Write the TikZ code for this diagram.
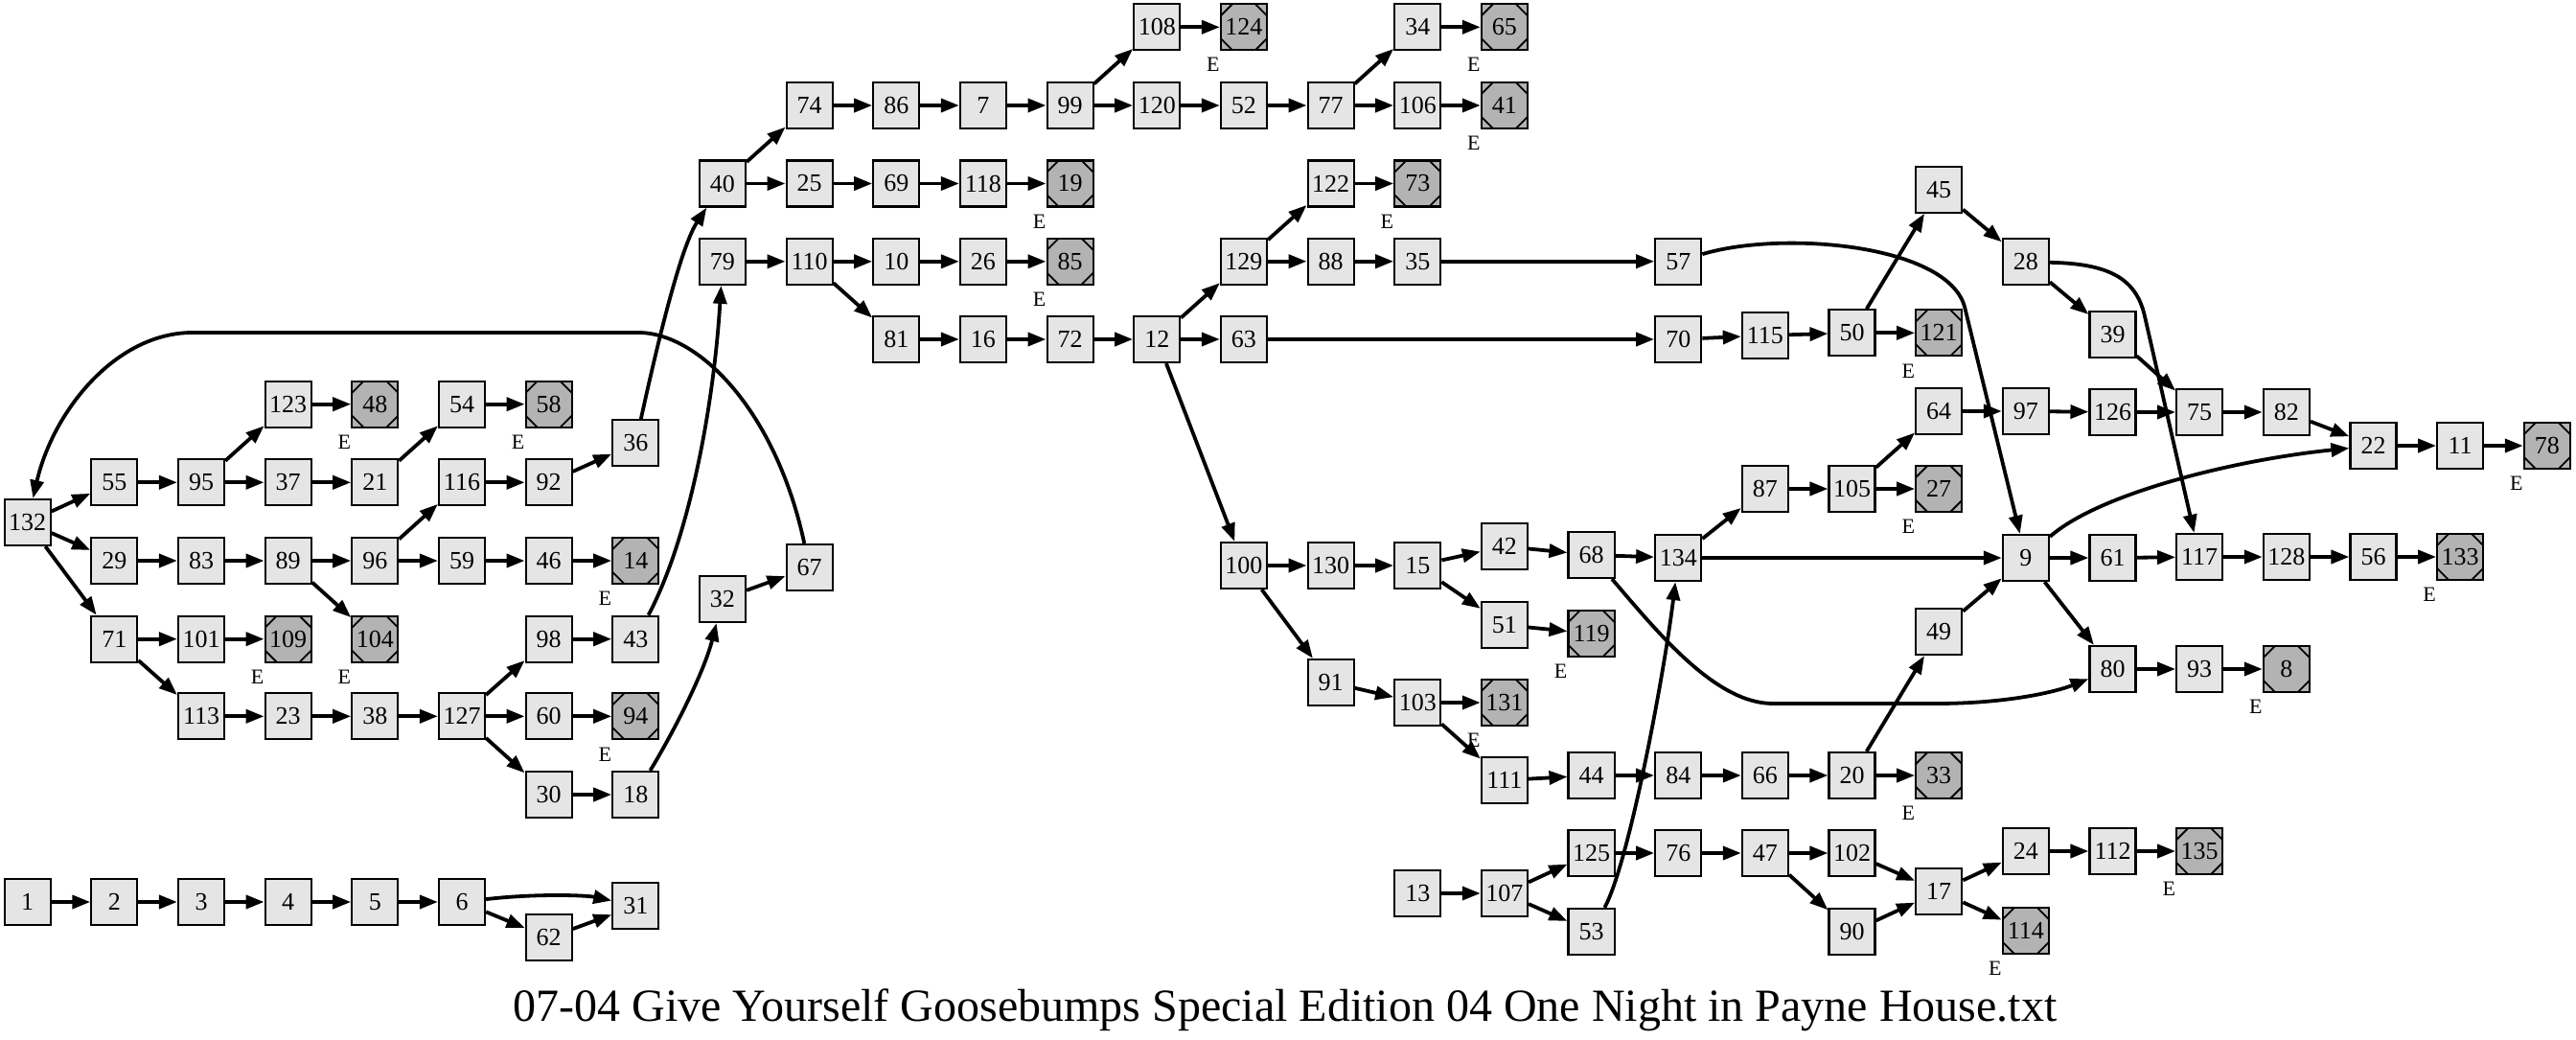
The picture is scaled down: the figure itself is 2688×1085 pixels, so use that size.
\documentclass[tikz,border=0pt]{standalone}
\usepackage{fontspec}
\setmainfont{Liberation Serif}
\usetikzlibrary{arrows.meta}
\definecolor{nodefill}{HTML}{E5E5E5}
\definecolor{termfill}{HTML}{B3B3B3}
\newcommand\mknode[4]{\node[#1] (n#2) at ({28.7+90.66*#3},#4) {#2};}
\begin{document}
\begin{tikzpicture}[x=0.5pt,y=-0.5pt,
  box/.style={draw=black, line width=1.1pt, fill=nodefill, minimum width=24pt, minimum height=24pt, inner sep=0pt, font=\fontsize{13}{13}\selectfont},
  term/.style={box, fill=termfill, path picture={
    \draw[line width=0.9pt]
      ([shift={(-6pt,12pt)}]path picture bounding box.center) -- ([shift={(-12pt,6pt)}]path picture bounding box.center)
      ([shift={(6pt,12pt)}]path picture bounding box.center) -- ([shift={(12pt,6pt)}]path picture bounding box.center)
      ([shift={(-6pt,-12pt)}]path picture bounding box.center) -- ([shift={(-12pt,-6pt)}]path picture bounding box.center)
      ([shift={(6pt,-12pt)}]path picture bounding box.center) -- ([shift={(12pt,-6pt)}]path picture bounding box.center);}},
  conn/.style={line width=1.9pt, -{Triangle[length=9.5pt,width=7pt]}},
  elab/.style={inner sep=0pt, font=\fontsize{11}{11}\selectfont}]
\useasboundingbox (0,0) rectangle (2688,1085);
% column 0
\mknode{box}{132}{0}{545}
\mknode{box}{1}{0}{941}
% column 1
\mknode{box}{55}{1}{503.3}
\mknode{box}{29}{1}{585}
\mknode{box}{71}{1}{666.7}
\mknode{box}{2}{1}{941}
% column 2
\mknode{box}{95}{2}{503.3}
\mknode{box}{83}{2}{585}
\mknode{box}{101}{2}{666.7}
\mknode{box}{113}{2}{747.3}
\mknode{box}{3}{2}{941}
% column 3
\mknode{box}{123}{3}{421.7}
\mknode{box}{37}{3}{503.3}
\mknode{box}{89}{3}{585}
\mknode{term}{109}{3}{666.7}
\mknode{box}{23}{3}{747.3}
\mknode{box}{4}{3}{941}
% column 4
\mknode{term}{48}{4}{421.7}
\mknode{box}{21}{4}{503.3}
\mknode{box}{96}{4}{585}
\mknode{term}{104}{4}{666.7}
\mknode{box}{38}{4}{747.3}
\mknode{box}{5}{4}{941}
% column 5
\mknode{box}{54}{5}{421.7}
\mknode{box}{116}{5}{503.3}
\mknode{box}{59}{5}{585}
\mknode{box}{127}{5}{747.3}
\mknode{box}{6}{5}{941}
% column 6
\mknode{term}{58}{6}{421.7}
\mknode{box}{92}{6}{503.3}
\mknode{box}{46}{6}{585}
\mknode{box}{98}{6}{666.7}
\mknode{box}{60}{6}{747.3}
\mknode{box}{30}{6}{829}
\mknode{box}{62}{6}{978.3}
% column 7
\mknode{box}{36}{7}{462.3}
\mknode{term}{14}{7}{585}
\mknode{box}{43}{7}{666.7}
\mknode{term}{94}{7}{747.3}
\mknode{box}{18}{7}{829}
\mknode{box}{31}{7}{945}
% column 8
\mknode{box}{40}{8}{191.5}
\mknode{box}{79}{8}{272.8}
\mknode{box}{32}{8}{625}
% column 9
\mknode{box}{74}{9}{110}
\mknode{box}{25}{9}{191.5}
\mknode{box}{110}{9}{272.8}
\mknode{box}{67}{9}{592}
% column 10
\mknode{box}{86}{10}{110}
\mknode{box}{69}{10}{191.5}
\mknode{box}{10}{10}{272.8}
\mknode{box}{81}{10}{354}
% column 11
\mknode{box}{7}{11}{110}
\mknode{box}{118}{11}{191.5}
\mknode{box}{26}{11}{272.8}
\mknode{box}{16}{11}{354}
% column 12
\mknode{box}{99}{12}{110}
\mknode{term}{19}{12}{191.5}
\mknode{term}{85}{12}{272.8}
\mknode{box}{72}{12}{354}
% column 13
\mknode{box}{108}{13}{28.3}
\mknode{box}{120}{13}{110}
\mknode{box}{12}{13}{354}
% column 14
\mknode{term}{124}{14}{28.3}
\mknode{box}{52}{14}{110}
\mknode{box}{129}{14}{272.7}
\mknode{box}{63}{14}{354}
\mknode{box}{100}{14}{590}
% column 15
\mknode{box}{77}{15}{110}
\mknode{box}{122}{15}{191.5}
\mknode{box}{88}{15}{272.7}
\mknode{box}{130}{15}{590}
\mknode{box}{91}{15}{712}
% column 16
\mknode{box}{34}{16}{28.3}
\mknode{box}{106}{16}{110}
\mknode{term}{73}{16}{191.5}
\mknode{box}{35}{16}{272.7}
\mknode{box}{15}{16}{590}
\mknode{box}{103}{16}{733}
\mknode{box}{13}{16}{932}
% column 17
\mknode{term}{65}{17}{28.3}
\mknode{term}{41}{17}{110}
\mknode{box}{42}{17}{570}
\mknode{box}{51}{17}{652}
\mknode{term}{131}{17}{733}
\mknode{box}{111}{17}{814}
\mknode{box}{107}{17}{932}
% column 18
\mknode{box}{68}{18}{579}
\mknode{term}{119}{18}{661}
\mknode{box}{44}{18}{809}
\mknode{box}{125}{18}{890}
\mknode{box}{53}{18}{972}
% column 19
\mknode{box}{57}{19}{272.7}
\mknode{box}{70}{19}{354}
\mknode{box}{134}{19}{582}
\mknode{box}{84}{19}{809}
\mknode{box}{76}{19}{890}
% column 20
\mknode{box}{115}{20}{350}
\mknode{box}{87}{20}{510}
\mknode{box}{66}{20}{809}
\mknode{box}{47}{20}{890}
% column 21
\mknode{box}{50}{21}{347.3}
\mknode{box}{105}{21}{510}
\mknode{box}{20}{21}{809}
\mknode{box}{102}{21}{890}
\mknode{box}{90}{21}{972}
% column 22
\mknode{box}{45}{22}{197.7}
\mknode{term}{121}{22}{347.3}
\mknode{box}{64}{22}{429}
\mknode{term}{27}{22}{510}
\mknode{box}{49}{22}{659}
\mknode{term}{33}{22}{809}
\mknode{box}{17}{22}{930}
% column 23
\mknode{box}{28}{23}{273.3}
\mknode{box}{97}{23}{429}
\mknode{box}{9}{23}{582}
\mknode{box}{24}{23}{888}
\mknode{term}{114}{23}{971}
% column 24
\mknode{box}{39}{24}{349}
\mknode{box}{126}{24}{430}
\mknode{box}{61}{24}{582}
\mknode{box}{80}{24}{698}
\mknode{box}{112}{24}{888}
% column 25
\mknode{box}{75}{25}{430}
\mknode{box}{117}{25}{581}
\mknode{box}{93}{25}{698}
\mknode{term}{135}{25}{888}
% column 26
\mknode{box}{82}{26}{430}
\mknode{box}{128}{26}{581}
\mknode{term}{8}{26}{698}
% column 27
\mknode{box}{22}{27}{465}
\mknode{box}{56}{27}{581}
% column 28
\mknode{box}{11}{28}{465}
\mknode{term}{133}{28}{581}
% column 29
\mknode{term}{78}{29}{465}
% E labels
\foreach \t in {48,58,14,109,104,94,124,65,41,19,73,85,121,27,119,131,33,8,133,78,135,114}
  \node[elab] (e\t) at ([shift={(-32,39.5)}]n\t.center) {E};
% straight connectors
\foreach \a/\b in {132/55,132/29,132/71,55/95,95/123,95/37,123/48,37/21,21/54,54/58,29/83,83/89,89/96,89/104,96/116,96/59,116/92,92/36,59/46,46/14,71/101,71/113,101/109,113/23,23/38,38/127,127/98,127/60,127/30,98/43,60/94,30/18,32/67,1/2,2/3,3/4,4/5,5/6,6/62,62/31,40/74,40/25,74/86,86/7,7/99,99/108,99/120,108/124,120/52,52/77,77/34,77/106,34/65,106/41,25/69,69/118,118/19,79/110,110/10,110/81,10/26,26/85,81/16,16/72,72/12,12/129,12/63,12/100,129/122,129/88,122/73,88/35,35/57,63/70,70/115,115/50,50/45,50/121,45/28,28/39,39/75,64/97,97/126,126/75,75/82,82/22,22/11,11/78,100/130,100/91,130/15,15/42,15/51,42/68,68/134,51/119,134/87,134/9,87/105,105/64,105/27,9/61,9/80,61/117,117/128,128/56,56/133,80/93,93/8,91/103,103/131,103/111,111/44,44/84,84/66,66/20,20/49,20/33,49/9,13/107,107/125,107/53,125/76,76/47,47/102,47/90,102/17,90/17,17/24,17/114,24/112,112/135}
  \draw[conn] (n\a) -- (n\b);
% curved connectors
\draw[conn] (n67) .. controls (810,430) and (730,347) .. (666,347) -- (201,347) .. controls (120,347) and (55,430) .. (n132);
\draw[conn] (n36) .. controls (690,340) and (712,255) .. (n40);
\draw[conn] (n43) .. controls (720,560) and (745,420) .. (n79);
\draw[conn] (n18) .. controls (705,760) and (735,700) .. (n32);
\draw[conn] (n6) .. controls (560,932) and (612,934) .. (n31);
\draw[conn] (n57) .. controls (1860,240) and (2032,255) .. (2050,320) -- (n9);
\draw[conn] (n28) .. controls (2200,275) and (2229,290) .. (2238,330) -- (n117);
\draw[conn] (n9) .. controls (2190,515) and (2330,480) .. (n22);
\draw[conn] (n68) .. controls (1730,660) and (1790,734) .. (1850,734) -- (2020,734) .. controls (2100,734) and (2150,720) .. (n80);
\draw[conn] (n53) .. controls (1700,900) and (1737,700) .. (n134);
% title
\node[anchor=base, inner sep=0pt, font=\fontsize{24}{24}\selectfont] (title) at (1341,1065) {07-04 Give Yourself Goosebumps Special Edition 04 One Night in Payne House.txt};
\end{tikzpicture}
\end{document}
